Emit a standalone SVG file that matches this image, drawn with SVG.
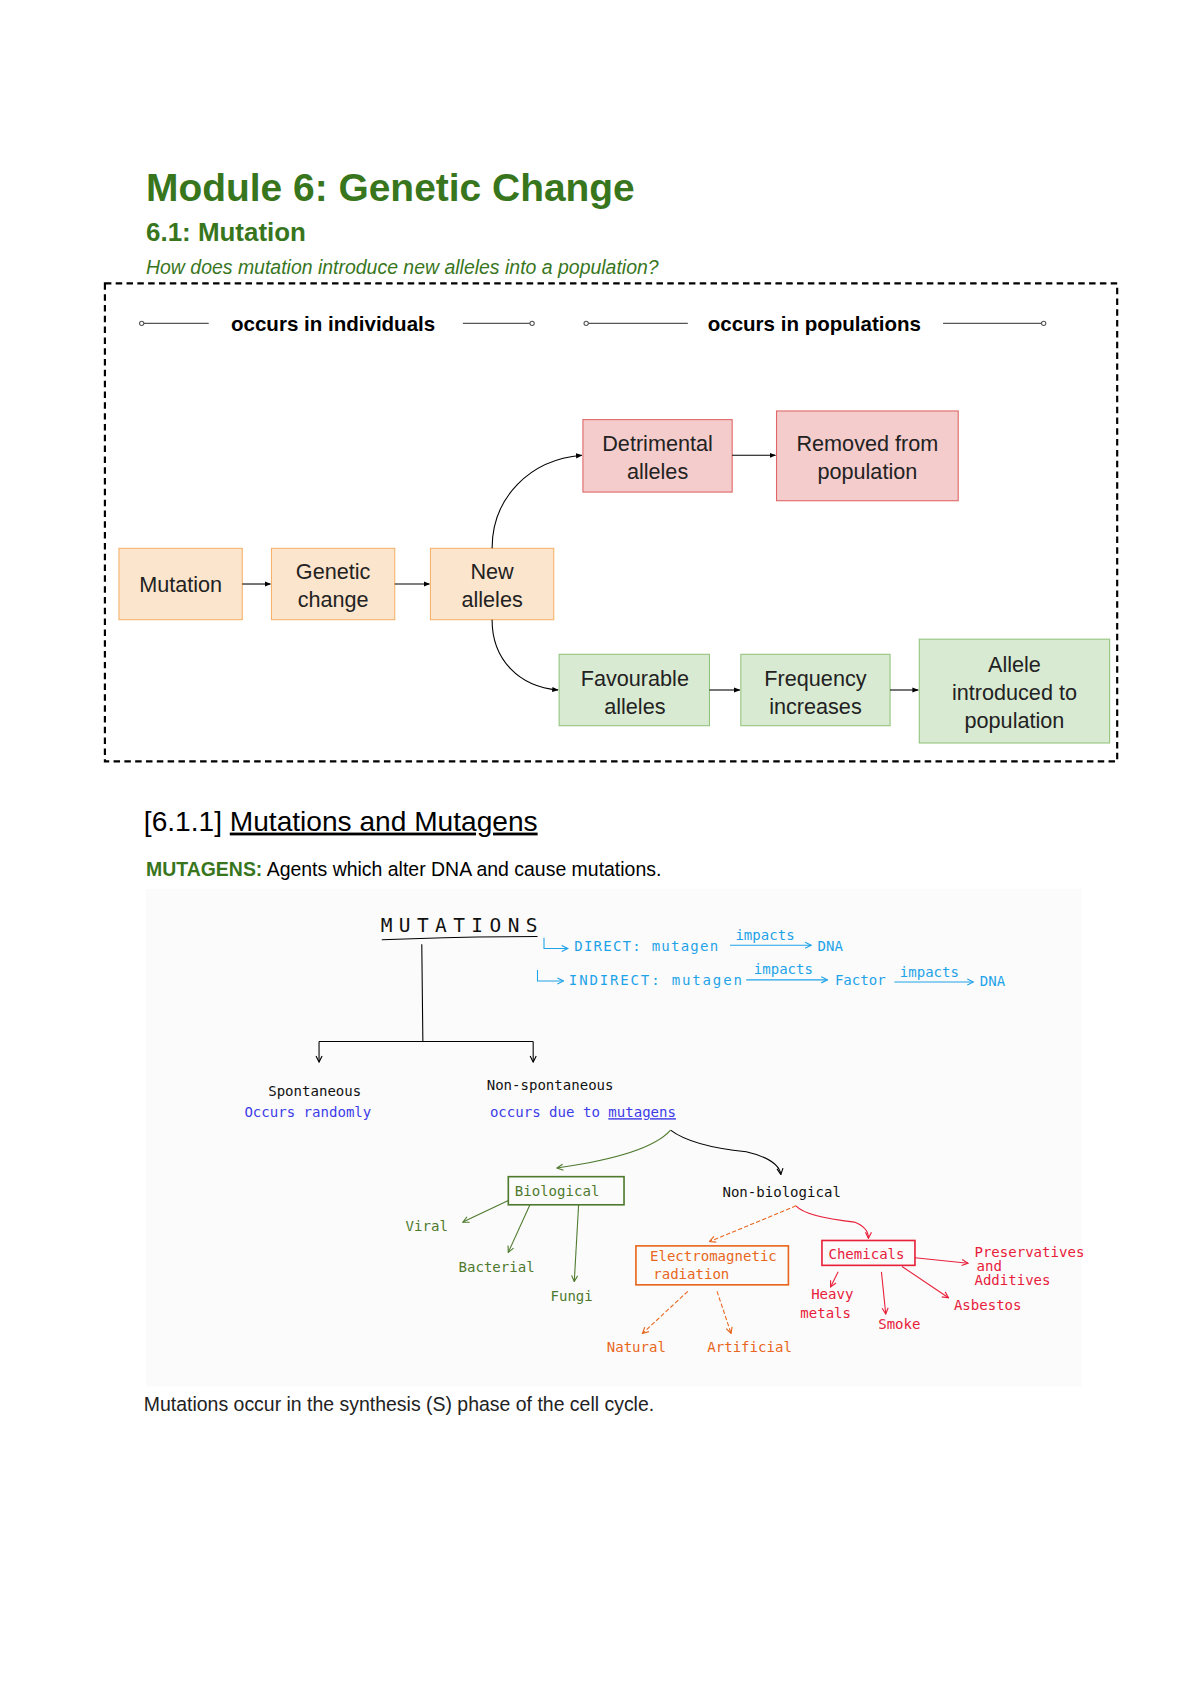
<svg xmlns="http://www.w3.org/2000/svg" width="1200" height="1694" viewBox="0 0 1200 1694">
<defs>
<style>
.t{font-family:"Liberation Sans",Arial,sans-serif}
.g{fill:#38761d}
.n{font-family:"Liberation Sans",Arial,sans-serif;font-size:20px;fill:#222;text-anchor:middle}
.hw{font-family:"DejaVu Sans Mono",monospace;font-size:13px}
.ln{stroke:#000;stroke-width:1;fill:none}
</style>
<marker id="a" viewBox="0 0 10 10" refX="9" refY="5" markerWidth="6" markerHeight="6" orient="auto"><path d="M0,1L10,5L0,9z" fill="#000"/></marker>
<marker id="ok" viewBox="0 0 10 10" refX="9" refY="5" markerWidth="7" markerHeight="7" orient="auto"><path d="M1,1L9,5L1,9" fill="none" stroke="#000" stroke-width="1.5"/></marker>
<marker id="ob" viewBox="0 0 10 10" refX="9" refY="5" markerWidth="7" markerHeight="7" orient="auto"><path d="M1,1L9,5L1,9" fill="none" stroke="#1fa3e8" stroke-width="1.5"/></marker>
<marker id="og" viewBox="0 0 10 10" refX="9" refY="5" markerWidth="7" markerHeight="7" orient="auto"><path d="M1,1L9,5L1,9" fill="none" stroke="#4e7a2e" stroke-width="1.5"/></marker>
<marker id="oo" viewBox="0 0 10 10" refX="9" refY="5" markerWidth="7" markerHeight="7" orient="auto"><path d="M1,1L9,5L1,9" fill="none" stroke="#e8661c" stroke-width="1.5"/></marker>
<marker id="or" viewBox="0 0 10 10" refX="9" refY="5" markerWidth="7" markerHeight="7" orient="auto"><path d="M1,1L9,5L1,9" fill="none" stroke="#e8203a" stroke-width="1.5"/></marker>
</defs>
<rect width="1200" height="1694" fill="#fff"/>
<g transform="scale(1.0815)">
<g id="header">
<text class="t g" x="135" y="186" font-size="36" font-weight="bold">Module 6: Genetic Change</text>
<text class="t g" x="135" y="223" font-size="24" font-weight="bold">6.1: Mutation</text>
<text class="t g" x="135" y="253" font-size="18" font-style="italic">How does mutation introduce new alleles into a population?</text>
</g>
<rect x="97" y="262" width="936" height="442" fill="none" stroke="#000" stroke-width="2" stroke-dasharray="6,4"/>
<g id="scale-labels">
<text class="t" x="308" y="306" font-size="19" font-weight="bold" text-anchor="middle">occurs in individuals</text>
<text class="t" x="753" y="306" font-size="19" font-weight="bold" text-anchor="middle">occurs in populations</text>
<g stroke="#555" fill="#fff"><line x1="131" y1="299" x2="193" y2="299"/><line x1="428" y1="299" x2="492" y2="299"/><line x1="542" y1="299" x2="636" y2="299"/><line x1="872" y1="299" x2="965" y2="299"/>
<circle cx="131" cy="299" r="2"/><circle cx="492" cy="299" r="2"/><circle cx="542" cy="299" r="2"/><circle cx="965" cy="299" r="2"/></g>
</g>
<g id="mutation"><rect x="110" y="507" width="114" height="66" fill="#fce5cd" stroke="#f6b26b"/><text class="n" x="167" y="547">Mutation</text></g>
<g id="genetic"><rect x="251" y="507" width="114" height="66" fill="#fce5cd" stroke="#f6b26b"/><text class="n" x="308" y="535">Genetic</text><text class="n" x="308" y="561">change</text></g>
<g id="newalleles"><rect x="398" y="507" width="114" height="66" fill="#fce5cd" stroke="#f6b26b"/><text class="n" x="455" y="535">New</text><text class="n" x="455" y="561">alleles</text></g>
<g id="detrimental"><rect x="539" y="388" width="138" height="67" fill="#f4cccc" stroke="#e06666"/><text class="n" x="608" y="417">Detrimental</text><text class="n" x="608" y="443">alleles</text></g>
<g id="removed"><rect x="718" y="380" width="168" height="83" fill="#f4cccc" stroke="#e06666"/><text class="n" x="802" y="417">Removed from</text><text class="n" x="802" y="443">population</text></g>
<g id="favourable"><rect x="517" y="605" width="139" height="66" fill="#d9ead3" stroke="#93c47d"/><text class="n" x="587" y="634">Favourable</text><text class="n" x="587" y="660">alleles</text></g>
<g id="frequency"><rect x="685" y="605" width="138" height="66" fill="#d9ead3" stroke="#93c47d"/><text class="n" x="754" y="634">Frequency</text><text class="n" x="754" y="660">increases</text></g>
<g id="introduced"><rect x="850" y="591" width="176" height="96" fill="#d9ead3" stroke="#93c47d"/><text class="n" x="938" y="621">Allele</text><text class="n" x="938" y="647">introduced to</text><text class="n" x="938" y="673">population</text></g>
<g id="connectors" class="ln" marker-end="url(#a)">
<line x1="224" y1="540" x2="250" y2="540"/><line x1="365" y1="540" x2="397" y2="540"/>
<path d="M455,507C455,460 490,425 538,421"/><path d="M455,573C455,610 480,635 516,638"/>
<line x1="677" y1="421" x2="717" y2="421"/><line x1="656" y1="638" x2="684" y2="638"/><line x1="823" y1="638" x2="849" y2="638"/>
</g>
<g id="section">
<text class="t" x="133" y="768" font-size="26" fill="#000">[6.1.1] <tspan text-decoration="underline">Mutations and Mutagens</tspan></text>
<text class="t" x="135" y="810" font-size="18"><tspan fill="#38761d" font-weight="bold">MUTAGENS:</tspan> Agents which alter DNA and cause mutations.</text>
<text class="t" x="133" y="1305" font-size="18" fill="#222">Mutations occur in the synthesis (S) phase of the cell cycle.</text>
</g>
<rect x="135" y="822" width="865" height="460" fill="#fbfbfb"/>
<g id="sketch">
<text x="352" y="862" font-family="DejaVu Sans Mono,monospace" font-size="18" fill="#111" textLength="145">MUTATIONS</text>
<path d="M353,869Q420,866 497,866" class="ln"/>
<path d="M390,873L391,963M295,963L493,963" class="ln"/>
<g class="ln" marker-end="url(#ok)"><path d="M295,963V982"/><path d="M493,963V982"/>
<path d="M620,1045Q640,1060 690,1065Q720,1072 722,1086"/></g>
<text class="hw" x="248" y="1013" fill="#111">Spontaneous</text>
<text class="hw" x="226" y="1033" fill="#3b3be8">Occurs randomly</text>
<text class="hw" x="450" y="1008" fill="#111">Non-spontaneous</text>
<text class="hw" x="453" y="1033" fill="#3b3be8">occurs due to <tspan text-decoration="underline">mutagens</tspan></text>
<g fill="#1fa3e8" stroke="#1fa3e8">
<g fill="none" marker-end="url(#ob)"><path d="M503,867V877H525"/><path d="M497,897V907H521"/><path d="M675,874H750"/><path d="M690,906H765"/><path d="M827,908H900"/></g>
<text class="hw" x="531" y="879" stroke="none" textLength="133">DIRECT: mutagen</text>
<text class="hw" x="680" y="869" stroke="none" font-size="11">impacts</text>
<text class="hw" x="756" y="879" stroke="none">DNA</text>
<text class="hw" x="526" y="911" stroke="none" textLength="160">INDIRECT: mutagen</text>
<text class="hw" x="697" y="901" stroke="none" font-size="11">impacts</text>
<text class="hw" x="772" y="911" stroke="none">Factor</text>
<text class="hw" x="832" y="903" stroke="none" font-size="11">impacts</text>
<text class="hw" x="906" y="912" stroke="none">DNA</text>
</g>
<g stroke="#4e7a2e" fill="#4e7a2e">
<g fill="none" marker-end="url(#og)"><path d="M620,1045Q600,1068 515,1080"/><path d="M470,1110L428,1130"/><path d="M490,1114L470,1158"/><path d="M535,1114L531,1185"/></g>
<rect x="470" y="1088" width="107" height="26" fill="none" stroke-width="1.5"/>
<text class="hw" x="476" y="1106" stroke="none">Biological</text>
<text class="hw" x="375" y="1138" stroke="none">Viral</text>
<text class="hw" x="424" y="1176" stroke="none">Bacterial</text>
<text class="hw" x="509" y="1203" stroke="none">Fungi</text>
</g>
<text class="hw" x="668" y="1107" fill="#111">Non-biological</text>
<g stroke="#e8661c" fill="#e8661c">
<g fill="none" stroke-dasharray="4,2" marker-end="url(#oo)"><path d="M736,1115Q700,1130 656,1148"/><path d="M636,1194L594,1233"/><path d="M663,1194L676,1233"/></g>
<rect x="588" y="1152" width="141" height="36" fill="none" stroke-width="1.5"/>
<text class="hw" x="601" y="1166" stroke="none">Electromagnetic</text>
<text class="hw" x="604" y="1183" stroke="none">radiation</text>
<text class="hw" x="561" y="1250" stroke="none">Natural</text>
<text class="hw" x="654" y="1250" stroke="none">Artificial</text>
</g>
<g stroke="#e8203a" fill="#e8203a">
<g fill="none" marker-end="url(#or)"><path d="M736,1115Q745,1125 790,1130Q803,1135 803,1145"/><path d="M846,1163L895,1168"/><path d="M775,1176L768,1190"/><path d="M815,1176L819,1215"/><path d="M834,1171L877,1200"/></g>
<rect x="760" y="1147" width="86" height="23" fill="none" stroke-width="1.5"/>
<text class="hw" x="766" y="1164" stroke="none">Chemicals</text>
<text class="hw" x="901" y="1162" stroke="none" font-size="12">Preservatives</text>
<text class="hw" x="903" y="1175" stroke="none" font-size="12">and</text>
<text class="hw" x="901" y="1188" stroke="none" font-size="12">Additives</text>
<text class="hw" x="750" y="1201" stroke="none">Heavy</text>
<text class="hw" x="740" y="1219" stroke="none">metals</text>
<text class="hw" x="812" y="1229" stroke="none">Smoke</text>
<text class="hw" x="882" y="1211" stroke="none">Asbestos</text>
</g>
</g>
</g>
</svg>
